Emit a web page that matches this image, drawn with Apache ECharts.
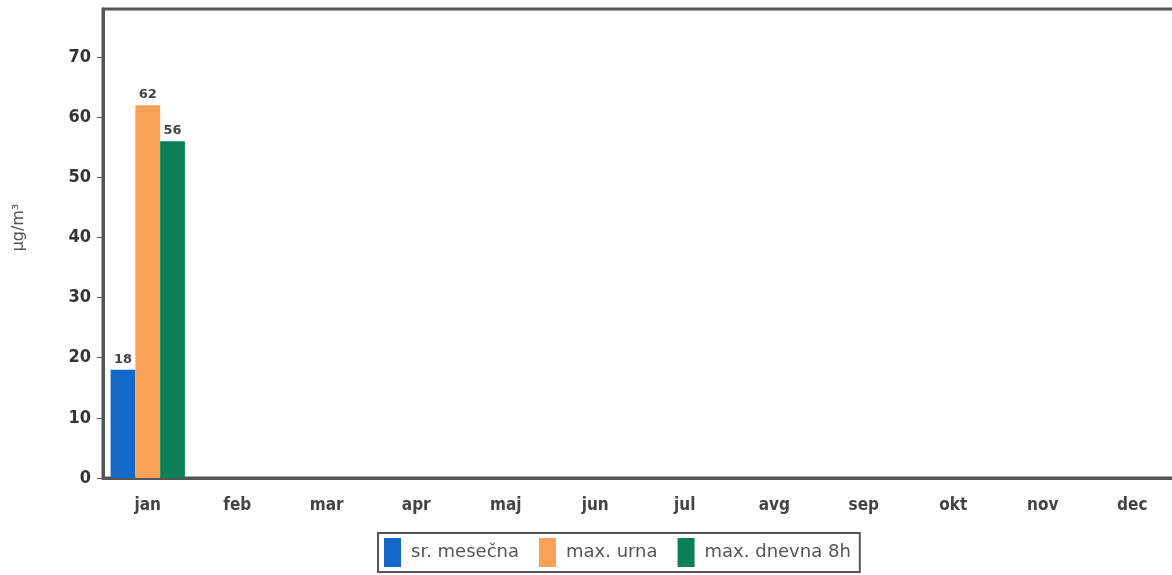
<!DOCTYPE html>
<html><head><meta charset="utf-8">
<script src="https://cdn.jsdelivr.net/npm/echarts@6/dist/echarts.min.js"></script>
<style>html,body{margin:0;padding:0;background:#fff}#c{width:1172px;height:575px}</style>
</head><body><div id="c"></div>
<script>
const months = ['jan','feb','mar','apr','maj','jun','jul','avg','sep','okt','nov','dec'];
const seriesNames = ['sr. mesečna','max. urna','max. dnevna 8h'];
const srMesecna = [18,null,null,null,null,null,null,null,null,null,null,null];
const maxUrna = [62,null,null,null,null,null,null,null,null,null,null,null];
const maxDnevna8h = [56,null,null,null,null,null,null,null,null,null,null,null];
const yTicks = [0,10,20,30,40,50,60,70];
const colors = ['#1468c8','#fba258','#0b7f57'];
const yName = 'μg/m³';

const chart = echarts.init(document.getElementById('c'));
const font = 'DejaVu Sans';
const mk = (name, data, color) => ({
  name, type:'bar', data, barGap:'0%', barCategoryGap:'17%',
  itemStyle:{color},
  label:{show:true, position:'top', distance:4, fontFamily:font, fontSize:13, fontWeight:'bold', color:'#444'}
});
chart.setOption({
  animation:false,
  grid:{left:103, top:9, width:1074, height:469, outerBoundsMode:'none', containLabel:false,
    show:true, borderColor:'#555', borderWidth:3, backgroundColor:'transparent'},
  legend:{
    left:378, top:533, padding:[5,9,5,6], itemGap:20,
    borderColor:'#555', borderWidth:2,
    icon:'rect', itemWidth:17, itemHeight:29,
    textStyle:{fontFamily:font, fontSize:18, color:'#555', padding:[0,0,0,5]},
    data:seriesNames
  },
  xAxis:{
    type:'category', data:months,
    axisLine:{lineStyle:{color:'#555', width:3}},
    axisTick:{alignWithLabel:true, length:4, lineStyle:{color:'#777'}},
    axisLabel:{fontFamily:'DejaVu Sans Condensed', fontSize:17, fontWeight:'bold', color:'#444', margin:19}
  },
  yAxis:{
    type:'value', min:0, max:78, interval:10,
    name:yName, nameLocation:'middle', nameGap:76, nameRotate:90,
    nameTextStyle:{fontFamily:font, fontSize:16, color:'#555', padding:[0,0,0,32]},
    axisLine:{show:true, lineStyle:{color:'#555', width:3}},
    axisTick:{show:true, length:6, lineStyle:{color:'#555'}, customValues:yTicks},
    splitLine:{show:false},
    axisLabel:{fontFamily:'DejaVu Sans Condensed', fontSize:18, fontWeight:'bold', color:'#333', margin:12,
      customValues:yTicks}
  },
  series:[mk(seriesNames[0], srMesecna, colors[0]), mk(seriesNames[1], maxUrna, colors[1]), mk(seriesNames[2], maxDnevna8h, colors[2])]
});
</script></body></html>
